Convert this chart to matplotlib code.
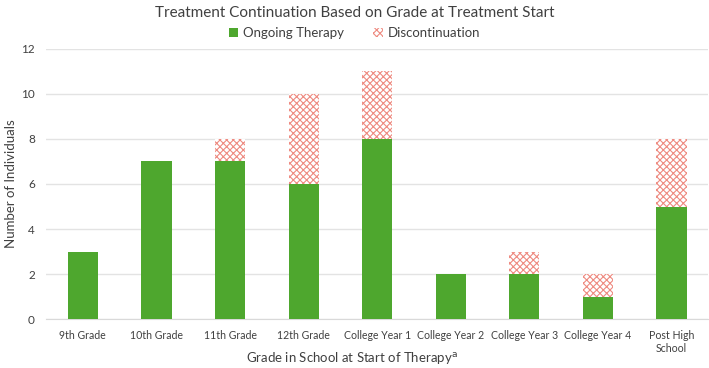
#!/usr/bin/env python

import numpy as np
import matplotlib.pyplot as plt
from matplotlib.patches import Patch

plt.rcParams['font.family'] = ['Lato', 'DejaVu Sans']
plt.rcParams['hatch.linewidth'] = 0.8

grades = ['9th Grade', '10th Grade', '11th Grade', '12th Grade', 'College Year 1',
          'College Year 2', 'College Year 3', 'College Year 4', 'Post High\nSchool']
ongoing = [3, 7, 7, 6, 8, 2, 2, 1, 5]
discont = [0, 0, 1, 4, 3, 0, 1, 1, 3]

green = '#4EA72E'
pink = '#EE8A80'
txt = '#404040'

fig = plt.figure(figsize=(7.09, 3.68), dpi=100)
ax = fig.add_axes([0.065, 0.133, 0.934, 0.734])

x = np.arange(len(grades))
w = 0.41
ax.bar(x, ongoing, w, color=green, zorder=3)
ax.bar(x, discont, w, bottom=ongoing, color='white', edgecolor=pink,
       hatch='xxxxx', linewidth=0, zorder=3)

ax.set_xlim(-0.5, len(grades) - 0.5)
ax.set_ylim(0, 12)
ax.set_yticks(range(0, 13, 2))
ax.yaxis.grid(True, color='#E3E3E3', linewidth=1, zorder=0)
ax.set_xticks(x)
ax.set_xticklabels(grades, fontsize=7.6, color=txt, linespacing=1.25)
ax.tick_params(axis='y', labelsize=8.5, labelcolor=txt, length=0, pad=8)
ax.tick_params(axis='x', length=0, pad=8)
for s in ['top', 'right', 'left']:
    ax.spines[s].set_visible(False)
ax.spines['bottom'].set_color('#D9D9D9')

fig.text(0.016, 0.5, 'Number of Individuals', rotation=90, ha='center', va='center',
         fontsize=9.5, color=txt)
fig.text(0.497, 0.027, 'Grade in School at Start of Therapy$^{\\mathrm{a}}$',
         ha='center', va='center', fontsize=9.5, color=txt)

fig.text(0.5, 0.965, 'Treatment Continuation Based on Grade at Treatment Start',
         ha='center', va='center', fontsize=11, color=txt)

handles = [Patch(facecolor=green, label='Ongoing Therapy'),
           Patch(facecolor='white', edgecolor=pink, hatch='xxxxx', linewidth=0,
                 label='Discontinuation')]
fig.legend(handles=handles, loc='center', bbox_to_anchor=(0.5, 0.91), ncol=2,
           frameon=False, fontsize=9.5, handlelength=0.7, handleheight=0.7,
           columnspacing=2.2, handletextpad=0.4, labelcolor=txt)

fig.savefig('out.png', dpi=100)
